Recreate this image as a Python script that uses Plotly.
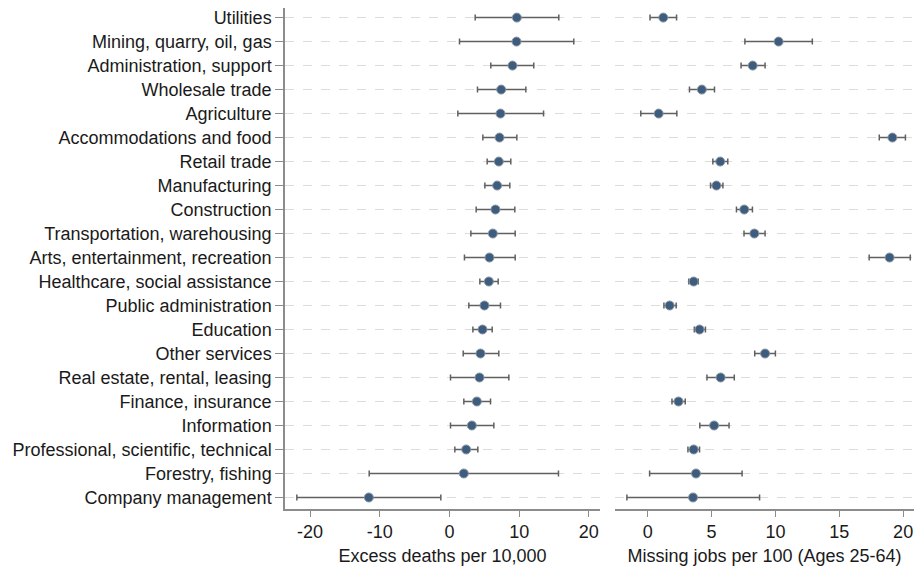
import plotly.graph_objects as go

industries = [
    "Utilities", "Mining, quarry, oil, gas", "Administration, support", "Wholesale trade",
    "Agriculture", "Accommodations and food", "Retail trade", "Manufacturing",
    "Construction", "Transportation, warehousing", "Arts, entertainment, recreation",
    "Healthcare, social assistance", "Public administration", "Education", "Other services",
    "Real estate, rental, leasing", "Finance, insurance", "Information",
    "Professional, scientific, technical", "Forestry, fishing", "Company management",
]

# excess deaths per 10,000: estimate, lower, upper
deaths = [9.67, 9.62, 9.04, 7.42, 7.32, 7.18, 7.08, 6.84, 6.60, 6.22, 5.74,
          5.65, 5.02, 4.74, 4.45, 4.31, 3.93, 3.21, 2.40, 2.06, -11.57]
deaths_lo = [3.69, 1.44, 5.93, 4.02, 1.20, 4.79, 5.41, 5.08, 3.83, 3.07, 2.15,
             4.36, 2.78, 3.36, 1.97, 0.15, 2.06, 0.15, 0.77, -11.52, -21.9]
deaths_hi = [15.69, 17.84, 12.10, 10.96, 13.50, 9.67, 8.80, 8.66, 9.38, 9.43, 9.43,
             6.99, 7.32, 6.13, 7.08, 8.52, 5.89, 6.37, 4.07, 15.64, -1.24]

# missing jobs per 100 (ages 25-64): estimate, lower, upper
jobs = [1.22, 10.25, 8.22, 4.24, 0.86, 19.16, 5.68, 5.38, 7.56, 8.35, 18.94,
        3.60, 1.72, 4.06, 9.19, 5.71, 2.41, 5.20, 3.60, 3.78, 3.55]
jobs_lo = [0.18, 7.61, 7.31, 3.27, -0.54, 18.13, 5.10, 4.92, 6.95, 7.54, 17.34,
           3.22, 1.27, 3.65, 8.38, 4.64, 1.90, 4.08, 3.15, 0.15, -1.63]
jobs_hi = [2.26, 12.89, 9.19, 5.23, 2.28, 20.18, 6.27, 5.89, 8.20, 9.19, 20.56,
           3.96, 2.23, 4.52, 10.00, 6.78, 2.94, 6.37, 4.06, 7.39, 8.76]

deaths_ticks = [-20, -10, 0, 10, 20]
deaths_labels = ["-20", "-10", "0", "10", "20"]
jobs_ticks = [0, 5, 10, 15, 20]

marker = dict(color="#3e5d7e", size=9, line=dict(color="#8a96a3", width=1))


def err(est, lo, hi):
    return dict(type="data", symmetric=False,
                array=[h - e for e, h in zip(est, hi)],
                arrayminus=[e - l for e, l in zip(est, lo)],
                color="#606060", thickness=1.5, width=3)


fig = go.Figure()
fig.add_trace(go.Scatter(x=deaths, y=industries, mode="markers", marker=marker,
                         error_x=err(deaths, deaths_lo, deaths_hi),
                         xaxis="x", yaxis="y", showlegend=False))
fig.add_trace(go.Scatter(x=jobs, y=industries, mode="markers", marker=marker,
                         error_x=err(jobs, jobs_lo, jobs_hi),
                         xaxis="x2", yaxis="y2", showlegend=False))

font = dict(family="Arial, Liberation Sans, sans-serif", size=18, color="#1a1a1a")
order = list(reversed(industries))
yrange = [-0.48, 20.40]
xcommon = dict(showgrid=False, zeroline=False, showline=True, linecolor="#8c8c8c",
               linewidth=1.5, ticks="outside", ticklen=6, tickcolor="#8c8c8c",
               tickfont=font, title_font=font, title_standoff=8)

# page body has an 8px margin, so the figure is drawn 8px smaller on each side
fig.update_layout(
    width=906, height=560,
    margin=dict(l=0, r=0, t=0, b=59),
    paper_bgcolor="white", plot_bgcolor="white",
    font=font,
    xaxis=dict(domain=[277 / 906, 592 / 906], range=[-23.6, 21.6],
               tickvals=deaths_ticks, ticktext=deaths_labels,
               title_text="Excess deaths per 10,000", **xcommon),
    xaxis2=dict(domain=[607 / 906, 1], range=[-2.56, 20.85],
                tickvals=jobs_ticks, title_text="Missing jobs per 100 (Ages 25-64)",
                **xcommon),
    yaxis=dict(categoryorder="array", categoryarray=order, range=yrange,
               showgrid=True, gridcolor="#dcdcdc", griddash="dash", gridwidth=1,
               showline=True, linecolor="#8c8c8c", linewidth=1.5,
               ticks="outside", ticklen=8, tickcolor="#8c8c8c",
               tickfont=font, automargin=False, zeroline=False),
    yaxis2=dict(anchor="x2", matches="y", categoryorder="array", categoryarray=order,
                range=yrange, showgrid=True, gridcolor="#dcdcdc", griddash="dash",
                gridwidth=1, showline=False, showticklabels=False, ticks="",
                zeroline=False),
)

fig.write_html("out.html")
